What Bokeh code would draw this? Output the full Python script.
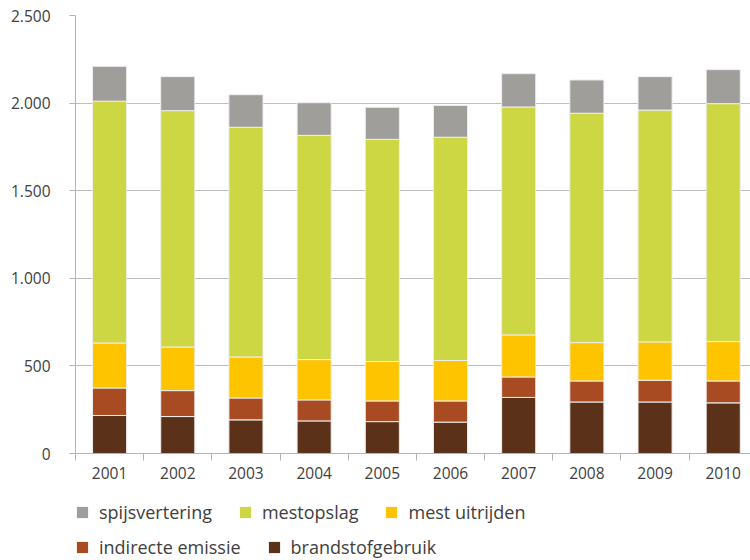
from bokeh.plotting import figure
from bokeh.layouts import column
from bokeh.models import ColumnDataSource, Range1d, FixedTicker, Legend, LegendItem
from bokeh.embed import file_html
from bokeh.resources import INLINE

years = ["2001", "2002", "2003", "2004", "2005", "2006", "2007", "2008", "2009", "2010"]
brandstofgebruik = [217, 211, 192, 186, 182, 179, 320, 294, 294, 289]
indirecte_emissie = [157, 148, 125, 120, 118, 121, 117, 120, 124, 125]
mest_uitrijden = [257, 249, 234, 230, 225, 231, 240, 219, 219, 225]
mestopslag = [1380, 1349, 1311, 1280, 1268, 1274, 1301, 1309, 1323, 1358]
spijsvertering = [199, 194, 186, 186, 183, 182, 190, 190, 191, 194]

series_names = ["brandstofgebruik", "indirecte emissie", "mest uitrijden", "mestopslag", "spijsvertering"]
series_colors = ["#5b3219", "#a84b23", "#ffc400", "#cdd643", "#a09e9b"]
y_ticks = [0, 500, 1000, 1500, 2000, 2500]
y_tick_labels = ["0", "500", "1.000", "1.500", "2.000", "2.500"]
legend_row1 = ["spijsvertering", "mestopslag", "mest uitrijden"]
legend_row2 = ["indirecte emissie", "brandstofgebruik"]

xpos = [i + 1 for i in range(len(years))]
src = ColumnDataSource(dict(
    x=xpos,
    brandstofgebruik=brandstofgebruik,
    indirecte_emissie=indirecte_emissie,
    mest_uitrijden=mest_uitrijden,
    mestopslag=mestopslag,
    spijsvertering=spijsvertering,
))
stack_keys = ["brandstofgebruik", "indirecte_emissie", "mest_uitrijden", "mestopslag", "spijsvertering"]

p = figure(width=750, height=493, x_range=Range1d(0.5, 10.4), y_range=Range1d(0, 2500),
           output_backend="svg", toolbar_location=None,
           min_border_left=75, min_border_right=0, min_border_top=15, min_border_bottom=40)
p.outline_line_color = None
p.background_fill_color = "white"
p.border_fill_color = "white"

renderers = p.vbar_stack(stack_keys, x="x", width=0.5, source=src, color=series_colors,
                         line_color="#eeeeee", line_width=1)
for r, c in zip(renderers, series_colors):
    r.glyph.line_color = "#eeeeee"
    r.glyph.fill_color = c

gray = "#b4b4b4"
tick_font = "Open Sans"

yt = FixedTicker(ticks=y_ticks)
p.yaxis.ticker = yt
p.yaxis.major_label_overrides = {t: l for t, l in zip(y_ticks, y_tick_labels)}
p.yaxis.axis_line_color = gray
p.yaxis.major_tick_line_color = gray
p.yaxis.major_tick_out = 6
p.yaxis.major_tick_in = 0
p.yaxis.minor_tick_line_color = None
p.yaxis.major_label_standoff = 19
p.yaxis.major_label_text_font = tick_font
p.yaxis.major_label_text_font_size = "15.5px"
p.yaxis.major_label_text_color = "#404040"

xt = FixedTicker(ticks=xpos, minor_ticks=[i + 0.5 for i in range(len(years) + 1)])
p.xaxis.ticker = xt
p.xaxis.major_label_overrides = {x: y for x, y in zip(xpos, years)}
p.xaxis.axis_line_color = gray
p.xaxis.major_tick_line_color = None
p.xaxis.major_tick_out = 0
p.xaxis.major_tick_in = 0
p.xaxis.minor_tick_line_color = gray
p.xaxis.minor_tick_out = 7
p.xaxis.minor_tick_in = 0
p.xaxis.major_label_standoff = 6
p.xaxis.major_label_text_font = tick_font
p.xaxis.major_label_text_font_size = "15.5px"
p.xaxis.major_label_text_color = "#404040"

p.xgrid.visible = False
p.ygrid.ticker = yt
p.ygrid.grid_line_color = "#bdbdbd"
p.ygrid.grid_line_width = 1

color_of = dict(zip(series_names, series_colors))


def legend_fig(names, height, top):
    f = figure(width=750, height=height, x_range=Range1d(0, 1), y_range=Range1d(0, 1),
               output_backend="svg", toolbar_location=None,
               x_axis_type=None, y_axis_type=None,
               min_border_left=73, min_border_right=0, min_border_top=top, min_border_bottom=0)
    f.outline_line_color = None
    f.background_fill_color = "white"
    f.border_fill_color = "white"
    items = []
    for n in names:
        # zero-size proxy glyph, only used to draw the legend swatch
        r = f.vbar(x=[0], top=[0], bottom=[0], width=0, fill_color=color_of[n], line_color=None)
        items.append(LegendItem(label=n, renderers=[r]))
    leg = Legend(items=items, location="center_left", orientation="horizontal")
    leg.border_line_color = None
    leg.background_fill_alpha = 0
    leg.padding = 0
    leg.margin = 0
    leg.spacing = 26
    leg.glyph_width = 14
    leg.glyph_height = 14
    leg.label_standoff = 10
    leg.label_text_font = "Open Sans"
    leg.label_text_font_size = "18px"
    leg.label_text_color = "#404040"
    f.add_layout(leg)
    return f


f1 = legend_fig(legend_row1, 38, 0)
f2 = legend_fig(legend_row2, 29, 3)

layout = column(p, f1, f2, spacing=0)
open("out.html", "w").write(file_html(layout, INLINE))
